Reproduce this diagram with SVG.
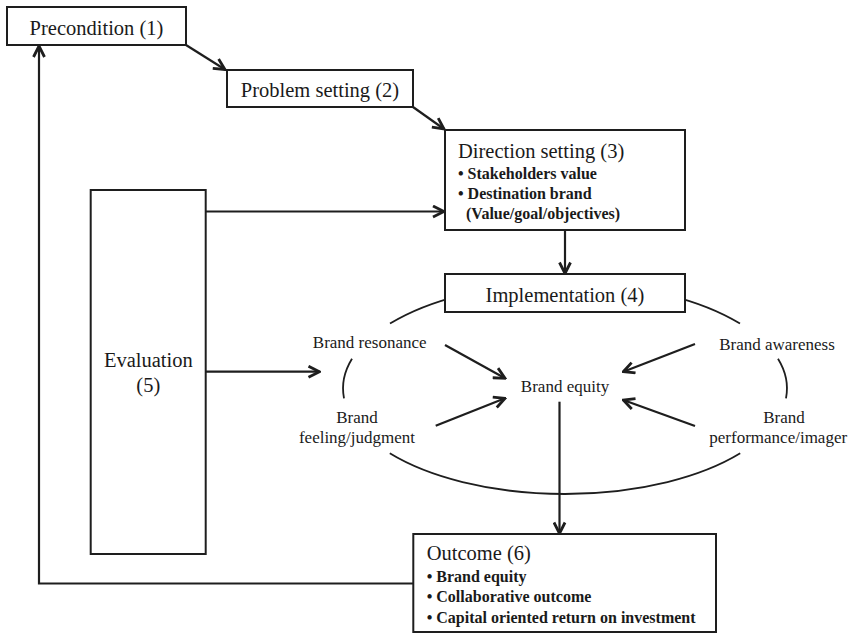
<svg xmlns="http://www.w3.org/2000/svg" width="849" height="633" viewBox="0 0 849 633">
<style>
.box{fill:#fff;stroke:#1e1e1e;stroke-width:2}
.ln{fill:none;stroke:#1e1e1e;stroke-width:2.2}
.arc{fill:none;stroke:#1e1e1e;stroke-width:1.8}
.h{font-family:"Liberation Serif","Times New Roman",serif;font-size:20.5px;fill:#1a1a1a}
.b{font-family:"Liberation Serif","Times New Roman",serif;font-size:16px;font-weight:bold;fill:#1a1a1a}
.s{font-family:"Liberation Serif","Times New Roman",serif;font-size:17px;fill:#1a1a1a}
.c{text-anchor:middle}
</style>
<defs>
<marker id="ah" viewBox="0 0 14 14" refX="12.5" refY="7" markerWidth="14" markerHeight="14" markerUnits="userSpaceOnUse" orient="auto">
<path d="M1.5,1.5 L12.5,7 L1.5,12.5" fill="none" stroke="#1e1e1e" stroke-width="2.8"/>
</marker>
</defs>
<rect width="849" height="633" fill="#fff"/>

<g id="connectors">
<line class="ln" x1="186" y1="45" x2="225" y2="69.5" marker-end="url(#ah)"/>
<line class="ln" x1="413" y1="107" x2="444" y2="129" marker-end="url(#ah)"/>
<line class="ln" x1="205.7" y1="211.5" x2="444" y2="211.5" marker-end="url(#ah)"/>
<line class="ln" x1="565" y1="230" x2="565" y2="273.5" marker-end="url(#ah)"/>
<line class="ln" x1="205.7" y1="371.7" x2="319.5" y2="371.7" marker-end="url(#ah)"/>
<line class="ln" x1="445" y1="345" x2="505" y2="378.3" marker-end="url(#ah)"/>
<line class="ln" x1="695" y1="344" x2="623.3" y2="371.7" marker-end="url(#ah)"/>
<line class="ln" x1="435.7" y1="425.7" x2="505" y2="398.3" marker-end="url(#ah)"/>
<line class="ln" x1="695" y1="426" x2="623.3" y2="400" marker-end="url(#ah)"/>
<line class="ln" x1="559.5" y1="401.7" x2="559.5" y2="533.5" marker-end="url(#ah)"/>
<path class="ln" d="M413.3,583.5 H39 V46" marker-end="url(#ah)"/>
</g>

<g id="ellipse">
<path class="arc" d="M390,323.6 A222,105.5 0 0 1 740,323.6"/>
<path class="arc" d="M352,358.8 A222,105.5 0 0 0 344,398.3"/>
<path class="arc" d="M778,358.8 A222,105.5 0 0 1 786,398.3"/>
<path class="arc" d="M389.8,453.3 A222,105.5 0 0 0 740.2,453.3"/>
</g>

<g id="precondition">
<rect class="box" x="7" y="7" width="179" height="38"/>
<text class="h c" x="96.5" y="35">Precondition (1)</text>
</g>

<g id="problem-setting">
<rect class="box" x="227" y="70" width="186" height="37"/>
<text class="h c" x="320" y="97">Problem setting (2)</text>
</g>

<g id="direction-setting">
<rect class="box" x="445" y="130" width="240" height="100"/>
<text class="h" x="458" y="157.5">Direction setting (3)</text>
<text class="b" x="458" y="178.5">• Stakeholders value</text>
<text class="b" x="458" y="198.5">• Destination brand</text>
<text class="b" x="466" y="219">(Value/goal/objectives)</text>
</g>

<g id="implementation">
<rect class="box" x="445" y="274" width="240" height="38"/>
<text class="h c" x="565" y="301.5">Implementation (4)</text>
</g>

<g id="evaluation">
<rect class="box" x="90.7" y="190" width="115" height="364"/>
<text class="h c" x="148.3" y="366.7">Evaluation</text>
<text class="h c" x="148.3" y="391.7">(5)</text>
</g>

<g id="brand-resonance">
<text class="s c" x="369.7" y="348.3">Brand resonance</text>
</g>
<g id="brand-awareness">
<text class="s c" x="777" y="350">Brand awareness</text>
</g>
<g id="brand-equity">
<text class="s c" x="565" y="391.7">Brand equity</text>
</g>
<g id="brand-feeling">
<text class="s c" x="357" y="422.7">Brand</text>
<text class="s c" x="357" y="442.7">feeling/judgment</text>
</g>
<g id="brand-performance">
<text class="s c" x="784" y="422.7">Brand</text>
<text class="s" x="709.3" y="442.7">performance/imager</text>
</g>

<g id="outcome">
<rect class="box" x="413.3" y="534" width="302.7" height="98"/>
<text class="h" x="426.7" y="560">Outcome (6)</text>
<text class="b" x="426.7" y="581.7">• Brand equity</text>
<text class="b" x="426.7" y="601.7">• Collaborative outcome</text>
<text class="b" x="426.7" y="622.7">• Capital oriented return on investment</text>
</g>
</svg>
